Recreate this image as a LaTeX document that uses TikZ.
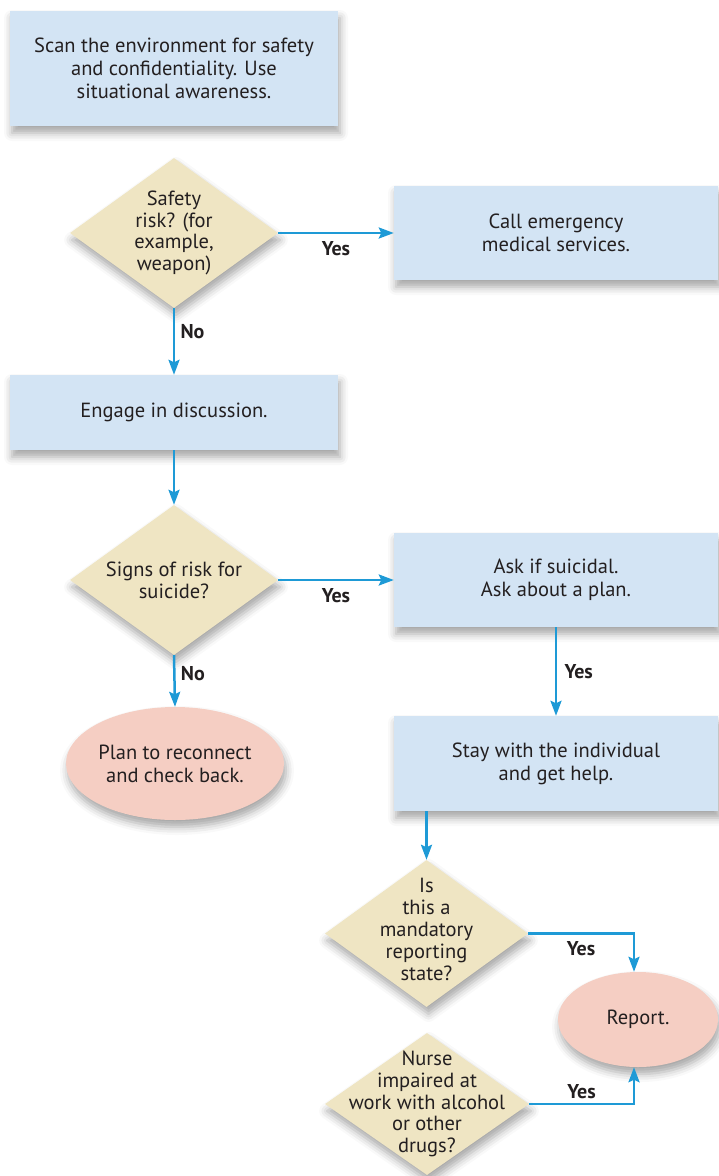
\documentclass[tikz,border=0pt]{standalone}
\usepackage{fontspec}
\setmainfont{PT Sans}
\usetikzlibrary{shapes.geometric, arrows.meta, shadows.blur}
\definecolor{boxblue}{HTML}{D3E4F4}
\definecolor{dtan}{HTML}{EFE5C3}
\definecolor{epink}{HTML}{F5CEC3}
\definecolor{arrblue}{HTML}{1E9AD6}
\definecolor{txtc}{HTML}{231F20}
\begin{document}
\begin{tikzpicture}[x=1pt,y=-1pt, font=\fontsize{20.5}{23}\selectfont, text=txtc,
 shad/.style={blur shadow={shadow xshift=2pt, shadow yshift=-7pt, shadow blur radius=8pt, shadow opacity=35}},
 proc/.style={rectangle, fill=boxblue, shad, inner sep=0pt, align=center},
 dec/.style={diamond, fill=dtan, shad, inner sep=0pt},
 term/.style={ellipse, fill=epink, shad, inner sep=0pt, align=center},
 dtext/.style={align=center, text=txtc, font=\fontsize{20.5}{21.8}\selectfont},
 flow/.style={draw=arrblue, line width=2.5pt, -{Stealth[length=15pt,width=11pt,inset=2.5pt]}},
 lab/.style={font=\fontsize{20}{22}\selectfont\bfseries, text=txtc}
]
\useasboundingbox (0,0) rectangle (718,1176);

\node[proc, minimum width=328pt, minimum height=115pt] (b1) at (174,68.5)
  {Scan the environment for safety\\and confidentiality. Use\\situational awareness.};
\node[dec, minimum width=208pt, minimum height=150pt,
  label={[dtext]center:Safety\\risk? (for\\example,\\weapon)}] (d1) at (174,233) {};
\node[proc, minimum width=324pt, minimum height=94pt] (b2) at (556,233)
  {Call emergency\\medical services.};
\node[proc, minimum width=328pt, minimum height=75pt] (b3) at (174,412.5)
  {Engage in discussion.};
\node[dec, minimum width=208pt, minimum height=150pt,
  label={[dtext]center:Signs of risk for\\suicide?}] (d2) at (174,580) {};
\node[proc, minimum width=324pt, minimum height=94pt] (b4) at (556,580)
  {Ask if suicidal.\\Ask about a plan.};
\node[term, minimum width=218pt, minimum height=113pt] (e1) at (175,763.5)
  {Plan to reconnect\\and check back.};
\node[proc, minimum width=324pt, minimum height=95pt] (b5) at (556,763.5)
  {Stay with the individual\\and get help.};
\node[dec, minimum width=203pt, minimum height=147pt,
  label={[dtext, yshift=4pt]center:Is\\this a\\mandatory\\reporting\\state?}] (d3) at (426.5,933.5) {};
\node[term, minimum width=160pt, minimum height=95pt] (rep) at (638,1019.5) {Report.};
\node[dec, minimum width=204pt, minimum height=142pt,
  label={[dtext]center:Nurse\\impaired at\\work with alcohol\\or other\\drugs?}] (d4) at (427,1104) {};

\draw[flow] (d1.east) -- node[lab, midway, below=4pt] {Yes} (b2.west);
\draw[flow] (d1.south) -- node[lab, pos=0.35, right=2pt] {No} (b3.north);
\draw[flow] (b3.south) -- (d2.north);
\draw[flow] (d2.east) -- node[lab, midway, below=4pt] {Yes} (b4.west);
\draw[flow] (d2.south) -- node[lab, pos=0.35, right=2pt] {No} (e1.north);
\draw[flow] (b4.south) -- node[lab, midway, right=4pt] {Yes} (b5.north);
\draw[flow] (b5.south -| d3.north) -- (d3.north);
\draw[flow] (d3.east) -| node[lab, pos=0.25, below=3pt] {Yes} ([xshift=-4pt]rep.north);
\draw[flow] (d4.east) -| node[lab, pos=0.25, above=1pt] {Yes} ([xshift=-4pt]rep.south);
\end{tikzpicture}
\end{document}
